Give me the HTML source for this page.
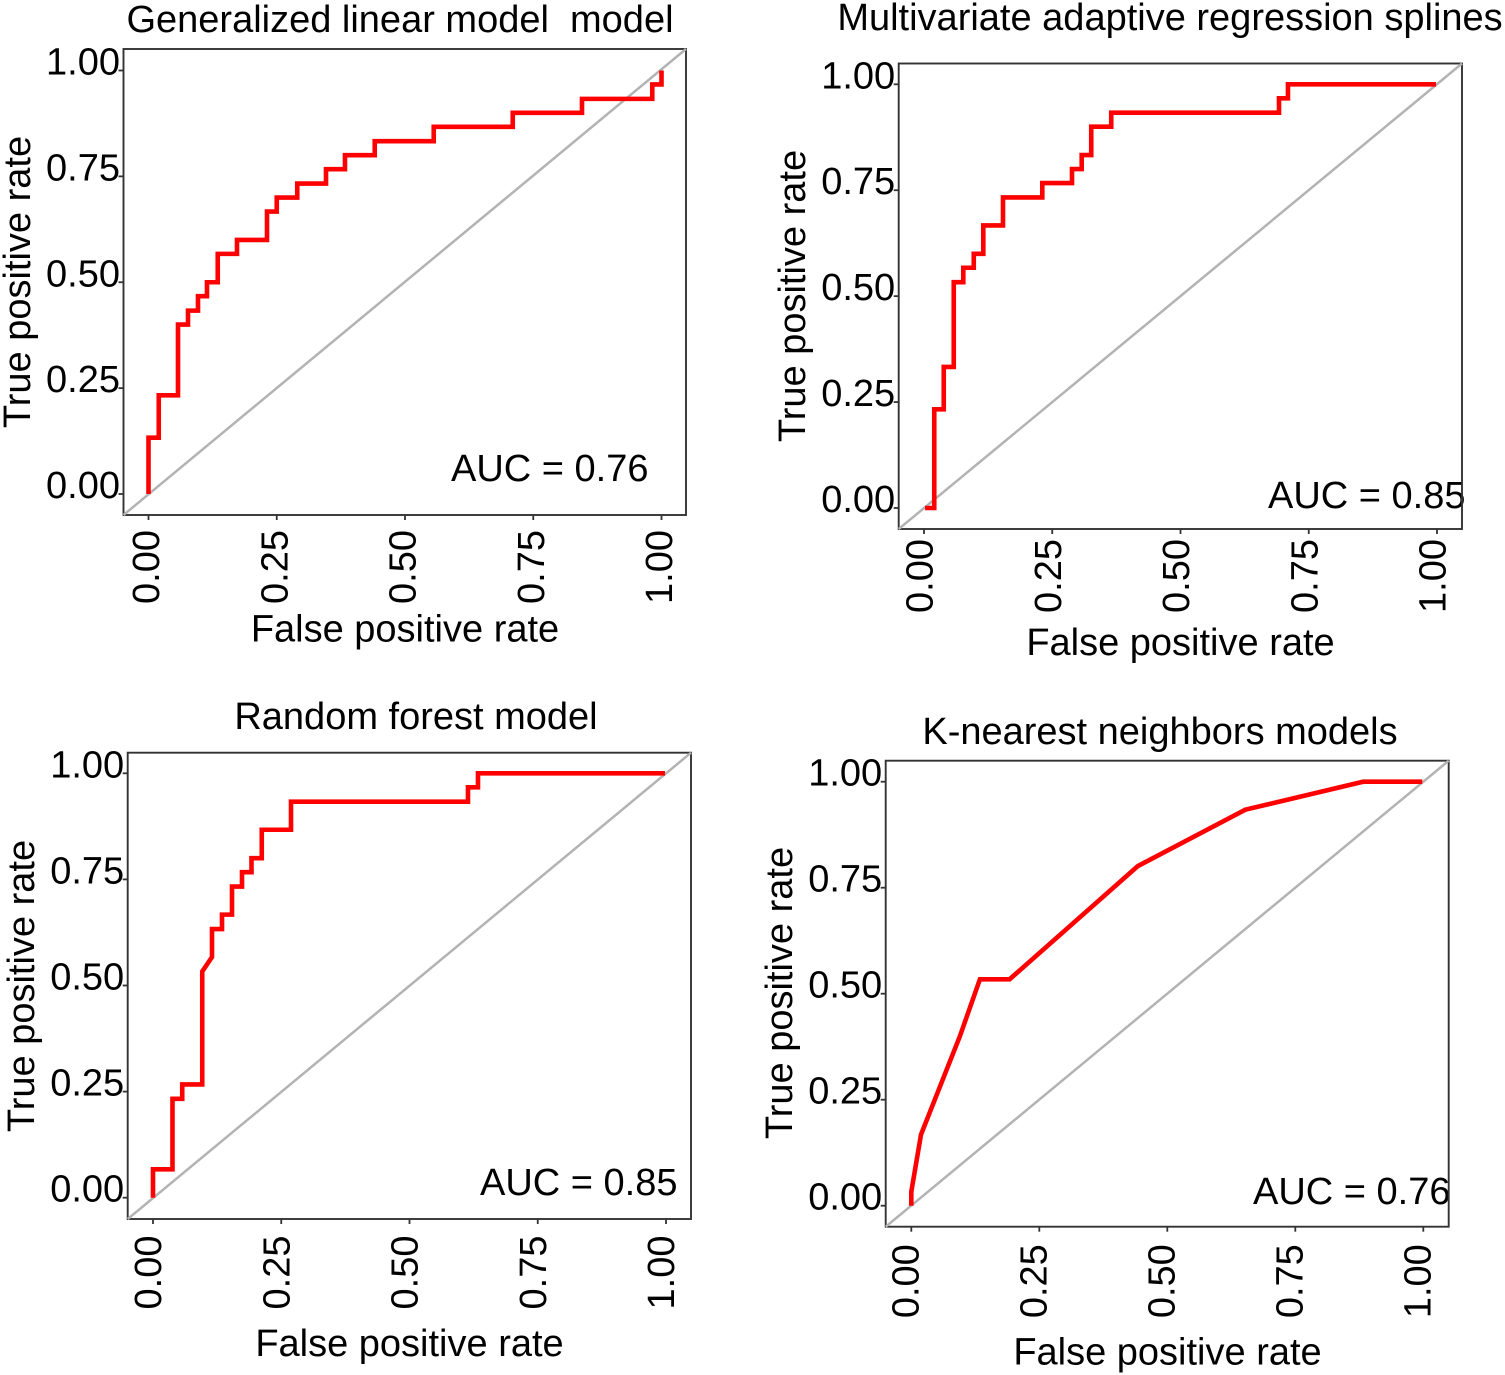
<!DOCTYPE html>
<html lang="en">
<head>
<meta charset="utf-8">
<title>ROC curves of four models</title>
<style>
  html, body { margin: 0; padding: 0; background: #fff; }
  svg { display: block; }
  text { font-family: "Liberation Sans", Arial, sans-serif; font-size: 38px; fill: #000; }
</style>
</head>
<body>
<svg id="figure" xmlns="http://www.w3.org/2000/svg" width="1505" height="1375" viewBox="0 0 1505 1375">
  <rect width="1505" height="1375" fill="#fff"/>

  <g id="panel-glm">
    <text x="400" y="32" text-anchor="middle" xml:space="preserve">Generalized linear model  model</text>
    <text transform="translate(30 282) rotate(-90)" text-anchor="middle">True positive rate</text>
    <text x="405" y="641.5" text-anchor="middle">False positive rate</text>
    <text x="451" y="481">AUC = 0.76</text>
  </g>

  <g id="panel-mars">
    <text x="1170" y="30" text-anchor="middle">Multivariate adaptive regression splines</text>
    <text transform="translate(805 296) rotate(-90)" text-anchor="middle">True positive rate</text>
    <text x="1180.5" y="655" text-anchor="middle">False positive rate</text>
    <text x="1268" y="508">AUC = 0.85</text>
  </g>

  <g id="panel-rf">
    <text x="416" y="729" text-anchor="middle">Random forest model</text>
    <text transform="translate(34 986) rotate(-90)" text-anchor="middle">True positive rate</text>
    <text x="409.5" y="1356" text-anchor="middle">False positive rate</text>
    <text x="480" y="1195">AUC = 0.85</text>
  </g>

  <g id="panel-knn">
    <text x="1160" y="744" text-anchor="middle">K-nearest neighbors models</text>
    <text transform="translate(792 993) rotate(-90)" text-anchor="middle">True positive rate</text>
    <text x="1167.5" y="1364.5" text-anchor="middle">False positive rate</text>
    <text x="1253" y="1204">AUC = 0.76</text>
  </g>
</svg>

<script>
// Tick values shared by both axes of every panel
const tickValues = [0, 0.25, 0.5, 0.75, 1];
const tickLabels = ["0.00", "0.25", "0.50", "0.75", "1.00"];

// Generalized linear model ROC vertices
const glmFpr = [0, 0, 0.02, 0.02, 0.0575, 0.0575, 0.077, 0.077, 0.0965, 0.0965, 0.114, 0.114, 0.135, 0.135, 0.1725, 0.1725, 0.231, 0.231, 0.25, 0.25, 0.29, 0.29, 0.346, 0.346, 0.383, 0.383, 0.441, 0.441, 0.556, 0.556, 0.71, 0.71, 0.845, 0.845, 0.982, 0.982, 1, 1];
const glmTpr = [0, 0.133, 0.133, 0.233, 0.233, 0.4, 0.4, 0.433, 0.433, 0.467, 0.467, 0.5, 0.5, 0.567, 0.567, 0.6, 0.6, 0.667, 0.667, 0.7, 0.7, 0.733, 0.733, 0.767, 0.767, 0.8, 0.8, 0.833, 0.833, 0.867, 0.867, 0.9, 0.9, 0.933, 0.933, 0.967, 0.967, 1];

// Multivariate adaptive regression splines ROC vertices
const marsFpr = [0.002, 0.02, 0.02, 0.0385, 0.0385, 0.058, 0.058, 0.0766, 0.0766, 0.097, 0.097, 0.1156, 0.1156, 0.154, 0.154, 0.2306, 0.2306, 0.2885, 0.2885, 0.3074, 0.3074, 0.326, 0.326, 0.365, 0.365, 0.692, 0.692, 0.7095, 0.7095, 0.998];
const marsTpr = [0, 0, 0.233, 0.233, 0.333, 0.333, 0.533, 0.533, 0.567, 0.567, 0.6, 0.6, 0.667, 0.667, 0.733, 0.733, 0.767, 0.767, 0.8, 0.8, 0.833, 0.833, 0.9, 0.9, 0.933, 0.933, 0.967, 0.967, 1, 1];

// Random forest ROC vertices
const rfFpr = [0, 0, 0.038, 0.038, 0.057, 0.057, 0.096, 0.096, 0.115, 0.115, 0.1345, 0.1345, 0.154, 0.154, 0.1735, 0.1735, 0.192, 0.192, 0.212, 0.212, 0.269, 0.269, 0.614, 0.614, 0.6335, 0.6335, 0.998];
const rfTpr = [0, 0.067, 0.067, 0.233, 0.233, 0.267, 0.267, 0.533, 0.567, 0.633, 0.633, 0.667, 0.667, 0.733, 0.733, 0.767, 0.767, 0.8, 0.8, 0.867, 0.867, 0.933, 0.933, 0.967, 0.967, 1, 1];

// K-nearest neighbors ROC vertices
const knnFpr = [0, 0, 0.019, 0.095, 0.134, 0.192, 0.4425, 0.6525, 0.8825, 0.998];
const knnTpr = [0, 0.033, 0.168, 0.4, 0.534, 0.534, 0.801, 0.934, 1, 1];

// Panel frames (layout only)
const panelFrames = [
  { id: "panel-glm",  key: "glm",           fpr: glmFpr,  tpr: glmTpr,  left: 123.5, right: 686,    top: 49,    bottom: 515,    x0: 148.5, x1: 661.5,  y0: 494,    y1: 70.5,  labelDx: 10.5, labelDy: 15 },
  { id: "panel-mars", key: "mars",          fpr: marsFpr, tpr: marsTpr, left: 898.7, right: 1462,   top: 63.5,  bottom: 529,    x0: 924,   x1: 1437,   y0: 508,    y1: 84.3,  labelDx: 8.5,  labelDy: 10 },
  { id: "panel-rf",   key: "random-forest", fpr: rfFpr,   tpr: rfTpr,   left: 127.7, right: 691,    top: 752.7, bottom: 1219,   x0: 153,   x1: 666,    y0: 1197.7, y1: 773.3, labelDx: 8,    labelDy: 16.5 },
  { id: "panel-knn",  key: "knn",           fpr: knnFpr,  tpr: knnTpr,  left: 885.7, right: 1448.7, top: 760.7, bottom: 1226.7, x0: 911.3, x1: 1423.3, y0: 1205.7, y1: 781.7, labelDx: 7,    labelDy: 17.5 }
];

const NS = "http://www.w3.org/2000/svg";

function xAxis(frame, value) {
  return frame.x0 + value * (frame.x1 - frame.x0);
}

function yAxis(frame, value) {
  return frame.y0 + value * (frame.y1 - frame.y0);
}

function make(tag, attrs) {
  const node = document.createElementNS(NS, tag);
  Object.keys(attrs).forEach(function (k) { node.setAttribute(k, attrs[k]); });
  return node;
}

panelFrames.forEach(function (frame) {
  const group = document.getElementById(frame.id);

  // plot frame
  const box = make("rect", { x: frame.left, y: frame.top, width: frame.right - frame.left, height: frame.bottom - frame.top, fill: "none", stroke: "#333333", "stroke-width": 1.9 });
  
  
  group.appendChild(box);

  // chance diagonal runs corner to corner of the frame
  const diagonal = make("line", { x1: frame.left, y1: frame.bottom, x2: frame.right, y2: frame.top, stroke: "#b3b3b3", "stroke-width": 2.5 });
  
  
  group.appendChild(diagonal);

  // ROC curve
  const points = frame.fpr.map(function (f, i) {
    return xAxis(frame, f).toFixed(2) + "," + yAxis(frame, frame.tpr[i]).toFixed(2);
  }).join(" ");
  const curve = make("polyline", { points: points, fill: "none", stroke: "#ff0000", "stroke-width": 4.6, "stroke-linejoin": "miter" });
  
  
  group.appendChild(curve);

  // ticks and tick labels
  tickValues.forEach(function (value, i) {
    const py = yAxis(frame, value);
    const yTick = make("line", { x1: frame.left - 5, y1: py, x2: frame.left, y2: py, stroke: "#333333", "stroke-width": 1.8 });
    
    
    group.appendChild(yTick);

    const yLabel = make("text", { x: frame.left - 3.5, y: py + 4, "text-anchor": "end" });
    
    
    yLabel.textContent = tickLabels[i];
    group.appendChild(yLabel);

    const px = xAxis(frame, value);
    const xTick = make("line", { x1: px, y1: frame.bottom, x2: px, y2: frame.bottom + 5, stroke: "#333333", "stroke-width": 1.8 });
    
    
    group.appendChild(xTick);

    const xLabel = make("text", { transform: "translate(" + (px + frame.labelDx) + " " + (frame.bottom + frame.labelDy) + ") rotate(-90)", "text-anchor": "end" });
    
    
    xLabel.textContent = tickLabels[i];
    group.appendChild(xLabel);
  });
});
</script>
</body>
</html>
